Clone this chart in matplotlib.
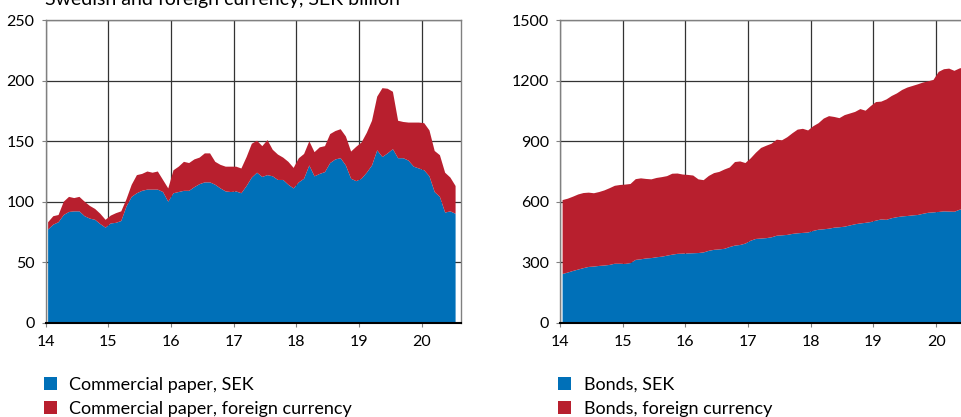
import numpy as np
import matplotlib
matplotlib.use('Agg')
import matplotlib.pyplot as plt
from matplotlib.patches import Patch

plt.rcParams['font.family'] = ['Lato', 'DejaVu Sans']
plt.rcParams['font.size'] = 11

# monthly observations, Jan 2014 - Jul 2020 (mid-month)
n_months = 79
months = 2014 + (np.arange(n_months) + 0.5) / 12

# commercial paper, SEK billion
cp_sek = [77, 81, 83, 89, 91.5, 92, 92, 88, 86, 85, 81.5, 78.5, 82, 82.5, 84, 96,
          104, 107, 109, 110, 110, 110, 108, 100, 107, 108, 109, 109, 112, 114.5,
          116, 116, 114, 111, 108.5, 108, 108.5, 107, 113, 120, 124, 120.5, 122,
          121, 118, 118, 114, 111, 116, 119, 130, 121, 123, 124.5, 132, 135, 136,
          130, 119, 117, 119, 124, 130, 142.5, 137, 140, 143.5, 136, 136, 134, 129,
          127.5, 126, 121, 108, 104, 91, 92, 90]
cp_fx = [6, 7, 6, 11, 12.5, 11, 12, 12, 10.5, 9, 8.5, 6.5, 6.5, 8, 8, 6, 10, 15,
         14, 15, 14, 15, 10, 11, 19, 21, 24, 23, 23, 22, 24, 24, 19, 19.5, 20.5,
         21, 20.5, 20.5, 24, 28, 26.5, 25.5, 29, 22, 21, 18.5, 19, 17, 20, 20.5,
         20, 20, 22, 21.5, 24, 23.5, 24, 24, 22.5, 28.5, 30, 33, 37, 44.5, 57,
         53.5, 47.5, 31, 30, 31.5, 36.5, 38, 39, 38, 34, 34.5, 33, 28, 23]

# bonds, SEK billion
bond_sek = [241, 248, 256, 263, 270, 276, 278, 281, 283, 286, 292, 292, 291, 295,
            311, 314, 318, 320, 324, 327, 332, 337, 341, 342, 343, 344, 345, 348,
            356, 361, 363, 366, 375, 382, 385, 392, 406, 415, 417, 419, 423, 431,
            433, 435, 440, 443, 445, 447, 455, 461, 463, 466, 471, 473, 476, 482,
            488, 492, 495, 499, 506, 512, 510, 518, 523, 527, 529, 532, 534, 540,
            545, 547, 549, 552, 551, 550, 560, 565, 568]
bond_fx = [367, 367, 369, 373, 373, 369, 364, 367, 373, 381, 387, 391, 394, 393,
           401, 402, 395, 391, 394, 395, 395, 402, 399, 393, 390, 386, 366, 359,
           372, 381, 385, 394, 395, 415, 415, 400, 409, 428, 450, 459, 465, 477,
           472, 485, 500, 515, 517, 507, 520, 529, 550, 559, 550, 542, 554, 556,
           558, 568, 557, 576, 589, 585, 598, 607, 615, 628, 638, 643, 649, 652,
           653, 658, 696, 706, 710, 700, 702, 703, 704]

year_ticks = [2014, 2015, 2016, 2017, 2018, 2019, 2020]
year_labels = ['14', '15', '16', '17', '18', '19', '20']
title = 'Swedish and foreign currency, SEK billion'

blue = '#0070B8'
red = '#B81F2E'

W, H = 961, 417
fig = plt.figure(figsize=(W / 100, H / 100), dpi=100)


def panel(rect, sek, fx, ymax, ystep, labels):
    ax = fig.add_axes(rect)
    ax.stackplot(months, sek, fx, colors=[blue, red], linewidth=0, zorder=2)
    ax.set_xlim(2014, 2020.62)
    ax.set_ylim(0, ymax)
    ax.set_xticks(year_ticks)
    ax.set_xticklabels(year_labels)
    ax.set_yticks(np.arange(0, ymax + 1, ystep))
    ax.grid(True, color='#333333', linewidth=0.9, zorder=0)
    ax.set_axisbelow(True)
    for s in ['left', 'right', 'top']:
        ax.spines[s].set_color('#808080')
        ax.spines[s].set_linewidth(1.0)
    ax.spines['bottom'].set_color('black')
    ax.spines['bottom'].set_linewidth(1.5)
    ax.spines['bottom'].set_zorder(3)
    ax.tick_params(axis='both', length=3, width=0.8, color='#808080',
                   labelsize=11.5)
    ax.tick_params(axis='x', pad=6)
    ax.tick_params(axis='y', pad=5)
    handles = [Patch(facecolor=blue, label=labels[0]),
               Patch(facecolor=red, label=labels[1])]
    fig.legend(handles=handles, loc='upper left',
               bbox_to_anchor=(rect[0] - 0.002, 1 - 377 / H),
               frameon=False, handlelength=0.72, handleheight=0.72,
               handletextpad=0.7, labelspacing=0.42, borderpad=0,
               borderaxespad=0, fontsize=13)
    return ax


left = panel([45.5 / W, 94.5 / H, 415 / W, 302 / H], cp_sek, cp_fx, 250, 50,
             ['Commercial paper, SEK', 'Commercial paper, foreign currency'])
right = panel([560 / W, 94.5 / H, 415 / W, 302 / H], bond_sek, bond_fx, 1500, 300,
              ['Bonds, SEK', 'Bonds, foreign currency'])

fig.text(45 / W, 1 - 5 / H, title, fontsize=14, va='baseline', ha='left')

fig.savefig('out.png', dpi=100)
